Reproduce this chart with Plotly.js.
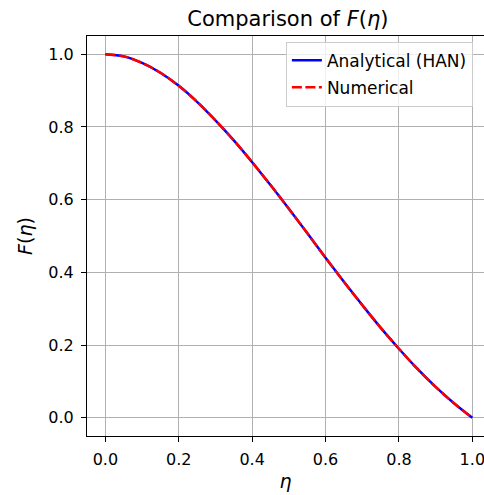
<!DOCTYPE html>
<html>
<head>
<meta charset="utf-8">
<script src="https://cdn.plot.ly/plotly-3.0.1.min.js"></script>
<style>html,body{margin:0;padding:0;background:#fff;}#chart{width:484px;height:495px;}</style>
</head>
<body>
<div id="chart"></div>
<script>
const eta = [0.00,0.05,0.10,0.15,0.20,0.25,0.30,0.35,0.40,0.45,0.50,0.55,0.60,0.65,0.70,0.75,0.80,0.85,0.90,0.95,1.00];
const analyticalF = [1.000,0.994,0.976,0.949,0.913,0.869,0.818,0.763,0.703,0.640,0.575,0.508,0.440,0.374,0.310,0.248,0.190,0.135,0.085,0.040,0.000];
const numericalF  = [1.000,0.994,0.976,0.949,0.913,0.869,0.818,0.763,0.703,0.640,0.575,0.508,0.440,0.374,0.310,0.248,0.190,0.135,0.085,0.040,0.000];
const tickVals = [0,0.2,0.4,0.6,0.8,1.0];
const tickText = ['0.0','0.2','0.4','0.6','0.8','1.0'];

const font = {family:'DejaVu Sans, sans-serif', color:'#000'};
const traces = [
  {x:eta, y:analyticalF, mode:'lines', name:'Analytical (HAN)', legendgroup:'a', line:{color:'#0000ff', width:2.5, shape:'spline'}},
  {x:eta, y:numericalF, mode:'lines', name:'Numerical', legendgroup:'b', line:{color:'#ff0000', width:2.5, dash:'10px,3.5px', shape:'spline'}}
];
const axisCommon = {
  showgrid:true, gridcolor:'#b0b0b0', gridwidth:1, zeroline:false,
  showline:true, linecolor:'#000', linewidth:1,
  ticks:'outside', ticklen:5, tickwidth:1, tickcolor:'#000',
  tickvals:tickVals, ticktext:tickText, ticklabeloverflow:'allow',
  tickfont:{family:font.family, size:16, color:'#000'}
};
const layout = {
  width:484, height:495,
  margin:{l:87, r:0, t:36, b:59, pad:0},
  paper_bgcolor:'#fff', plot_bgcolor:'#fff',
  font:font,
  title:{text:'Comparison of <i>F</i>(<i>η</i>)', font:{family:font.family, size:21, color:'#000'},
         xref:'paper', x:0.506, xanchor:'center', yref:'container', y:0.963, yanchor:'middle'},
  xaxis:Object.assign({}, axisCommon, {range:[-0.05,1.0318], mirror:true, ticklabelstandoff:4,
         title:{text:'<i>η</i>', font:{family:font.family, size:19, color:'#000'}, standoff:6}}),
  yaxis:Object.assign({}, axisCommon, {range:[-0.05,1.05], mirror:false, ticklabelstandoff:4,
         title:{text:'<i>F</i>(<i>η</i>)', font:{family:font.family, size:19, color:'#000'}, standoff:10}}),
  legend:{x:0.972, xanchor:'right', y:0.986, yanchor:'top', bgcolor:'rgba(255,255,255,0.8)',
          bordercolor:'#cccccc', borderwidth:1, font:{family:font.family, size:17, color:'#000'},
          tracegroupgap:2},
  showlegend:true
};
Plotly.newPlot('chart', traces, layout, {staticPlot:true, displayModeBar:false});
</script>
</body>
</html>
